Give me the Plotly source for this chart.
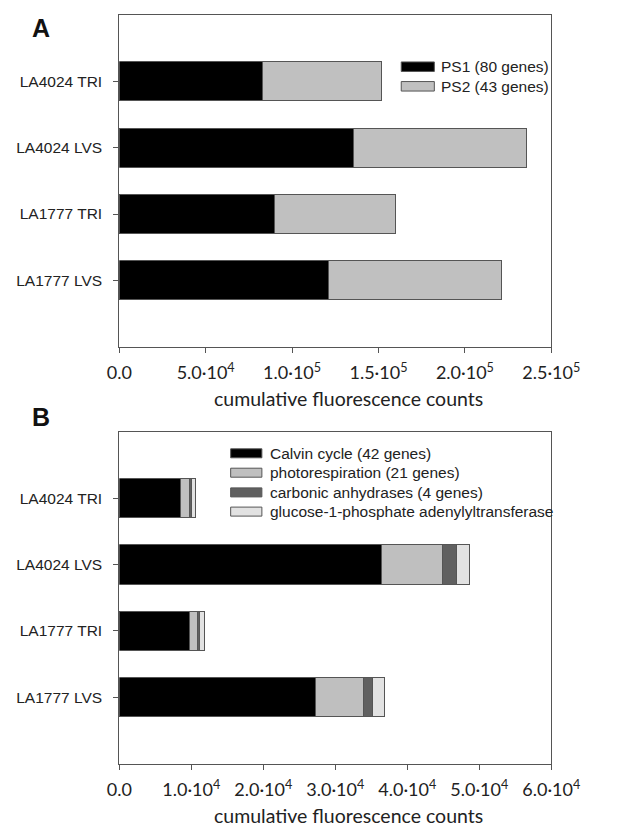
import plotly.graph_objects as go

# Sample lines, top to bottom
samples = ["LA4024 TRI", "LA4024 LVS", "LA1777 TRI", "LA1777 LVS"]

# Panel A: photosystem genes
ps1 = [83000, 135400, 89900, 121200]
ps2 = [68500, 100500, 70000, 99800]
series_a = [("PS1 (80 genes)", ps1, "#000000"),
            ("PS2 (43 genes)", ps2, "#c0c0c0")]

# Panel B: carbon fixation related genes
calvin = [8500, 36400, 9800, 27300]
photoresp = [1200, 8450, 1100, 6550]
carbonic = [350, 2050, 250, 1300]
glucose = [500, 1750, 650, 1650]
series_b = [("Calvin cycle (42 genes)", calvin, "#000000"),
            ("photorespiration (21 genes)", photoresp, "#bfbfbf"),
            ("carbonic anhydrases (4 genes)", carbonic, "#606060"),
            ("glucose-1-phosphate adenylyltransferase", glucose, "#e2e2e2")]

ticks_a = [0, 50000, 100000, 150000, 200000, 250000]
ticklabels_a = ["0.0", "5.0·10<sup>4</sup>", "1.0·10<sup>5</sup>", "1.5·10<sup>5</sup>",
                "2.0·10<sup>5</sup>", "2.5·10<sup>5</sup>"]
ticks_b = [0, 10000, 20000, 30000, 40000, 50000, 60000]
ticklabels_b = ["0.0", "1.0·10<sup>4</sup>", "2.0·10<sup>4</sup>", "3.0·10<sup>4</sup>",
                "4.0·10<sup>4</sup>", "5.0·10<sup>4</sup>", "6.0·10<sup>4</sup>"]
x_title = "cumulative fluorescence counts"

W, H = 619, 828
positions = list(range(len(samples)))
edge = "#555555"

fig = go.Figure()
for name, vals, col in series_a:
    fig.add_trace(go.Bar(x=vals, y=positions, orientation="h", name=name,
                         marker=dict(color=col, line=dict(color=edge, width=1)),
                         width=0.59, xaxis="x", yaxis="y", showlegend=False))
for name, vals, col in series_b:
    fig.add_trace(go.Bar(x=vals, y=positions, orientation="h", name=name,
                         marker=dict(color=col, line=dict(color=edge, width=1)),
                         width=0.59, xaxis="x2", yaxis="y2", showlegend=False))

# plot areas in pixels
ax_left, ax_right = 114.0, 577.5
a_top, a_bot = 15.0, 346.7
b_top, b_bot = 431.7, 763.6


def px(x):
    return x / W


def py(y):
    return 1 - y / H


xfont = dict(family="Lato, Open Sans, sans-serif", size=18, color="#222")
titlefont = dict(family="Lato, Open Sans, sans-serif", size=19.5, color="#222")
yfont = dict(family="Liberation Sans, Arial, sans-serif", size=15.5, color="#222")

common_x = dict(showline=True, linecolor=edge, linewidth=1, mirror=True,
                ticks="outside", ticklen=5, tickcolor=edge, showgrid=False,
                zeroline=False, tickfont=xfont, ticklabelstandoff=5)
common_y = dict(showline=True, linecolor=edge, linewidth=1, mirror=True,
                ticks="outside", ticklen=5, tickcolor=edge, showgrid=False,
                zeroline=False, tickfont=yfont, tickvals=positions, ticktext=samples,
                range=[4, -1], ticklabelstandoff=8)

fig.update_layout(
    width=W, height=H, margin=dict(l=0, r=0, t=0, b=0),
    paper_bgcolor="white", plot_bgcolor="white", barmode="stack",
    xaxis=dict(domain=[px(ax_left), px(ax_right)], range=[0, 250000],
               tickvals=ticks_a, ticktext=ticklabels_a, anchor="y", **common_x),
    yaxis=dict(domain=[py(a_bot), py(a_top)], anchor="x", **common_y),
    xaxis2=dict(domain=[px(ax_left), px(ax_right)], range=[0, 60000],
                tickvals=ticks_b, ticktext=ticklabels_b, anchor="y2", **common_x),
    yaxis2=dict(domain=[py(b_bot), py(b_top)], anchor="x2", **common_y),
)

# x-axis titles
for yy in (399, 815):
    fig.add_annotation(x=px(360), y=py(yy), xref="paper", yref="paper", text=x_title,
                       showarrow=False, xanchor="center", yanchor="middle", font=titlefont)

# panel letters
for letter, yy in (("A", 27.5), ("B", 417)):
    fig.add_annotation(x=px(18), y=py(yy), xref="paper", yref="paper", text=f"<b>{letter}</b>",
                       showarrow=False, xanchor="left", yanchor="middle",
                       font=dict(family="Liberation Sans, Arial, sans-serif", size=25, color="#111"))


def legend(entries, x0, rows, sw_w, sw_h, gap):
    for (name, _, col), yc in zip(entries, rows):
        fig.add_shape(type="rect", xref="paper", yref="paper",
                      x0=px(x0), x1=px(x0 + sw_w), y0=py(yc + sw_h / 2), y1=py(yc - sw_h / 2),
                      fillcolor=col, line=dict(color=edge, width=1))
        fig.add_annotation(x=px(x0 + sw_w + gap), y=py(yc), xref="paper", yref="paper",
                           text=name, showarrow=False, xanchor="left", yanchor="middle",
                           font=yfont)


legend(series_a, 416.5, [66.7, 86.3], 35.5, 9.5, 5)
legend(series_b, 233.5, [453.3, 472.7, 492.4, 511.6], 33.5, 9, 7)

fig.write_html("out.html")
